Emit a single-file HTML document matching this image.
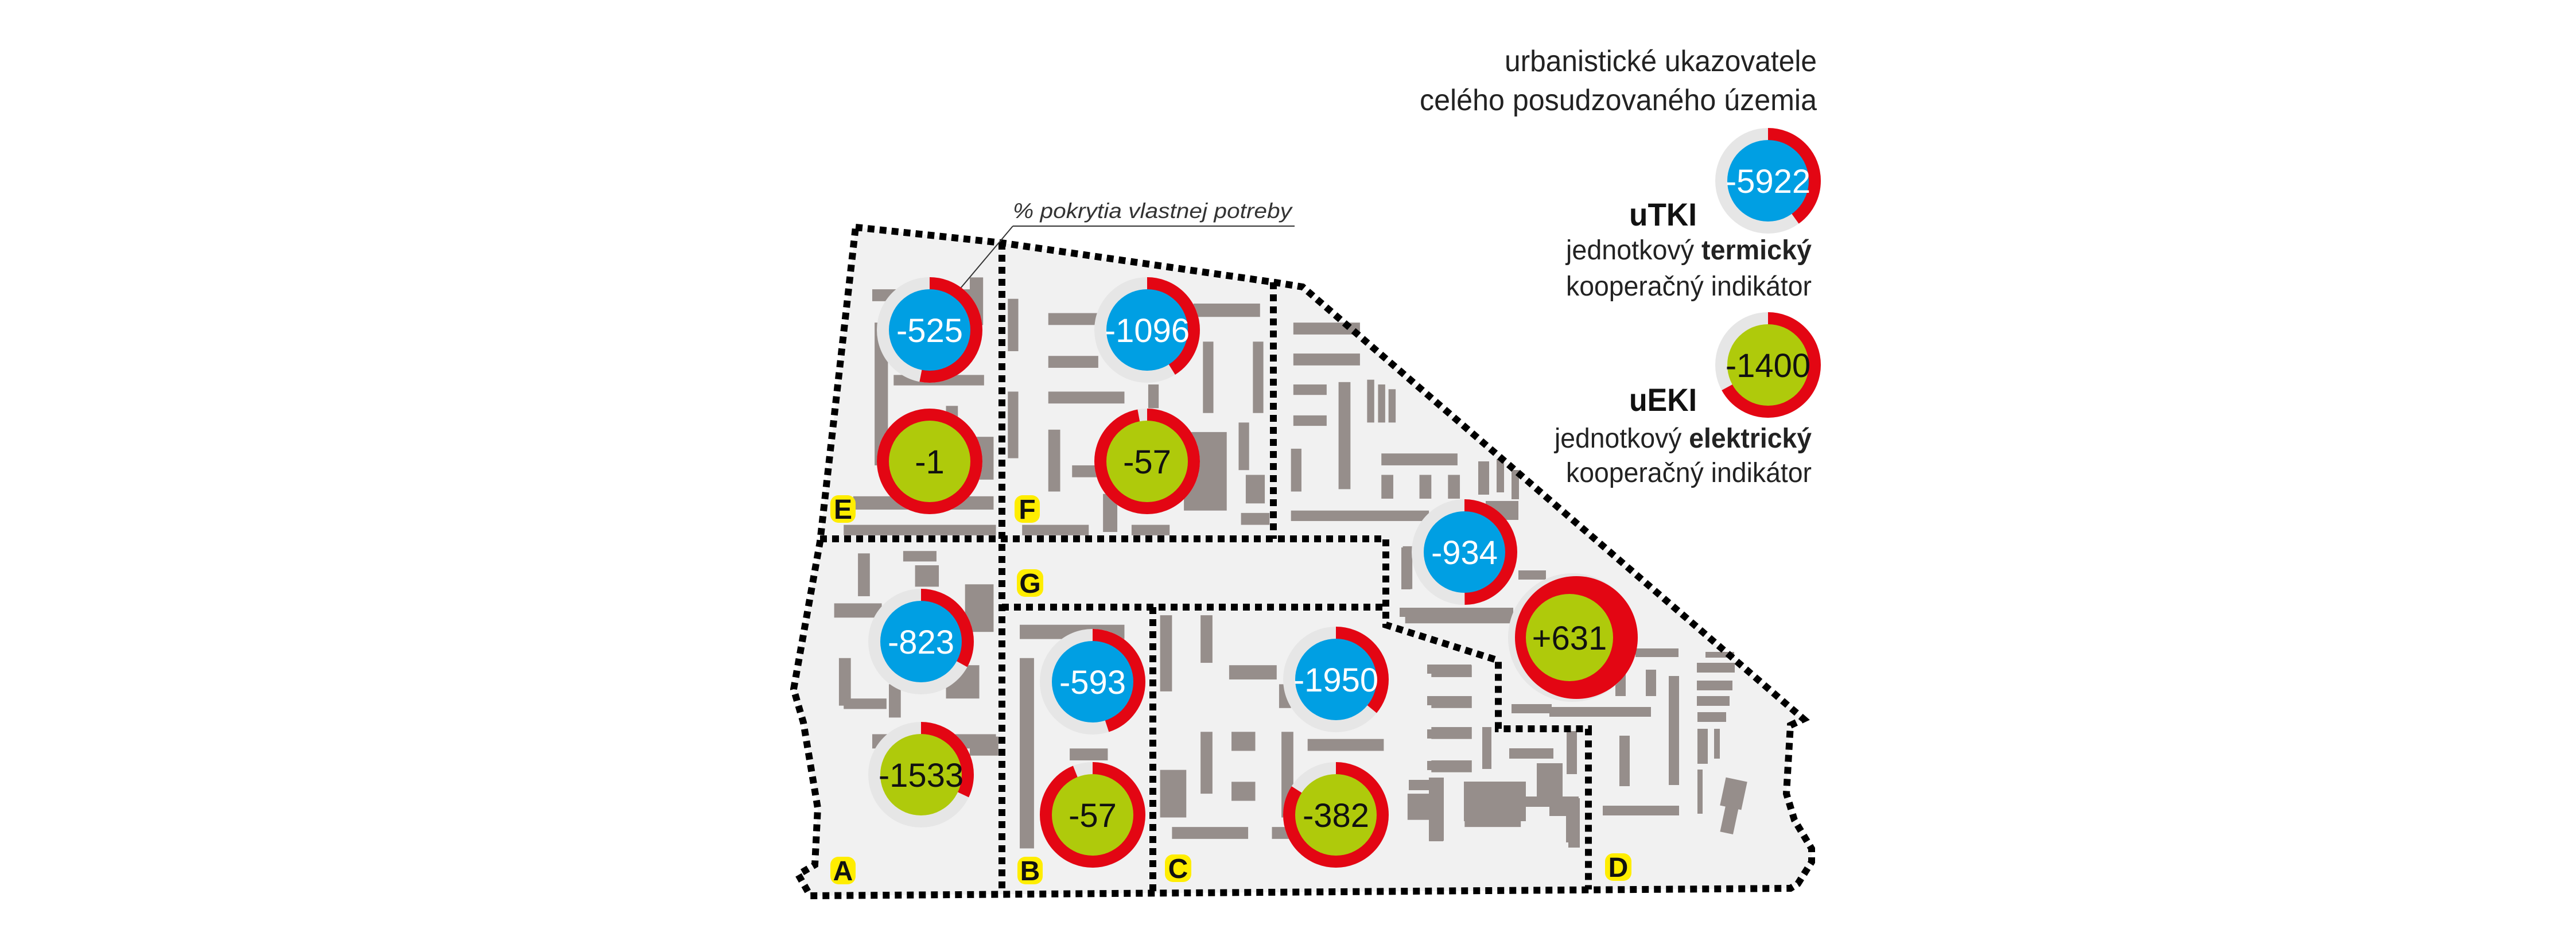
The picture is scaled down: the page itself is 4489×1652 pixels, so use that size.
<!DOCTYPE html>
<html><head><meta charset="utf-8"><style>html,body{margin:0;padding:0;background:#fff}svg{display:block}</style></head>
<body>
<svg xmlns="http://www.w3.org/2000/svg" width="4489" height="1652" viewBox="0 0 4489 1652">
<rect width="4489" height="1652" fill="#fff"/>
<path d="M1491,396 L1744,423 L2221,492 L2270,500 L3143,1253 L3120,1264 L3113,1383 L3127,1429 L3157,1479 L3157,1502 L3133,1540 L3120,1548 L1412,1561 L1391,1524 L1420,1507 L1425,1408 L1400,1259 L1383,1201 L1429,944 Z" fill="#f1f1f1"/>
<g fill="#968e8b">
<g transform="translate(1350,330) scale(0.8292)">
<rect x="205" y="210" width="230" height="25"/><rect x="210" y="280" width="28" height="300"/><rect x="410" y="185" width="28" height="100"/>
<rect x="250" y="390" width="190" height="22"/><rect x="360" y="455" width="25" height="60"/><rect x="420" y="520" width="40" height="90"/>
<rect x="165" y="645" width="295" height="28"/><rect x="145" y="705" width="320" height="22"/>
<rect x="490" y="230" width="22" height="110"/><rect x="490" y="425" width="22" height="140"/>
<rect x="575" y="260" width="105" height="25"/><rect x="575" y="350" width="105" height="25"/><rect x="575" y="425" width="160" height="25"/>
<rect x="575" y="505" width="25" height="130"/><rect x="625" y="580" width="55" height="25"/>
<rect x="880" y="240" width="140" height="28"/><rect x="900" y="320" width="22" height="150"/><rect x="1005" y="320" width="22" height="150"/>
<rect x="785" y="410" width="22" height="50"/><rect x="860" y="510" width="90" height="165"/><rect x="975" y="490" width="22" height="100"/>
<rect x="990" y="600" width="40" height="60"/><rect x="980" y="680" width="60" height="25"/>
<rect x="520" y="705" width="140" height="22"/><rect x="750" y="705" width="80" height="22"/><rect x="690" y="640" width="30" height="80"/>
<rect x="1090" y="280" width="140" height="25"/><rect x="1090" y="345" width="140" height="25"/><rect x="1090" y="410" width="70" height="22"/><rect x="1090" y="475" width="70" height="22"/>
<rect x="1185" y="405" width="25" height="225"/><rect x="1245" y="400" width="15" height="90"/><rect x="1268" y="410" width="15" height="80"/><rect x="1290" y="420" width="15" height="70"/>
<rect x="1085" y="545" width="22" height="90"/><rect x="1275" y="555" width="160" height="25"/>
<rect x="1275" y="600" width="25" height="50"/><rect x="1355" y="600" width="25" height="50"/><rect x="1415" y="600" width="25" height="50"/>
<rect x="1085" y="675" width="290" height="22"/>
<rect x="175" y="765" width="25" height="90"/><rect x="270" y="760" width="70" height="22"/><rect x="295" y="790" width="50" height="45"/>
<rect x="400" y="830" width="60" height="100"/><rect x="125" y="870" width="100" height="30"/>
<rect x="135" y="985" width="25" height="100"/><rect x="145" y="1070" width="90" height="22"/><rect x="240" y="1040" width="25" height="70"/>
<rect x="360" y="1000" width="70" height="70"/><rect x="205" y="1145" width="260" height="30"/><rect x="410" y="1150" width="60" height="40"/>
<rect x="515" y="915" width="220" height="30"/><rect x="515" y="985" width="30" height="400"/><rect x="620" y="1175" width="80" height="25"/>
<rect x="810" y="895" width="25" height="160"/><rect x="895" y="895" width="25" height="100"/><rect x="955" y="1000" width="100" height="30"/>
<rect x="1060" y="1040" width="25" height="50"/><rect x="895" y="1140" width="25" height="130"/><rect x="960" y="1140" width="50" height="40"/>
<rect x="960" y="1245" width="50" height="40"/><rect x="810" y="1220" width="55" height="100"/><rect x="1065" y="1140" width="25" height="180"/>
<rect x="1120" y="1155" width="160" height="25"/><rect x="835" y="1340" width="160" height="25"/><rect x="1045" y="1340" width="60" height="25"/>
<rect x="1380" y="1000" width="85" height="25"/><rect x="1380" y="1065" width="85" height="25"/><rect x="1380" y="1130" width="85" height="25"/><rect x="1380" y="1200" width="85" height="25"/>
<rect x="1375" y="1260" width="30" height="110"/><rect x="1450" y="1280" width="118" height="60"/><rect x="1330" y="1270" width="45" height="55"/>
<rect x="1325" y="890" width="250" height="22"/><rect x="1320" y="750" width="20" height="90"/>
</g>
<rect x="2487" y="1158" width="77" height="16"/><rect x="2487" y="1213" width="77" height="16"/><rect x="2487" y="1271" width="77" height="16"/><rect x="2487" y="1326" width="77" height="16"/>
<rect x="2439" y="1059" width="198" height="16"/><rect x="2442" y="954" width="16" height="73"/><rect x="2646" y="994" width="48" height="16"/>
<rect x="2576" y="804" width="19" height="58"/><rect x="2608" y="800" width="13" height="58"/><rect x="2634" y="819" width="13" height="51"/>
<rect x="2589" y="873" width="57" height="33"/><rect x="2634" y="1227" width="70" height="16"/><rect x="2630" y="1304" width="77" height="18"/>
<rect x="2678" y="1330" width="45" height="73"/><rect x="2551" y="1362" width="108" height="69"/><rect x="2659" y="1388" width="92" height="18"/>
<rect x="2729" y="1388" width="22" height="80"/><rect x="2455" y="1359" width="57" height="18"/><rect x="2490" y="1355" width="26" height="110"/>
<rect x="2583" y="1267" width="16" height="73"/>
<rect x="2850" y="1130" width="75" height="15"/><rect x="2972" y="1136" width="50" height="10"/>
<rect x="2957" y="1155" width="66" height="17"/><rect x="2957" y="1186" width="62" height="17"/><rect x="2957" y="1213" width="57" height="17"/><rect x="2958" y="1241" width="50" height="17"/>
<rect x="2815" y="1169" width="18" height="44"/><rect x="2868" y="1167" width="18" height="46"/><rect x="2908" y="1178" width="18" height="190"/>
<rect x="2700" y="1232" width="177" height="17"/><rect x="2958" y="1270" width="18" height="61"/><rect x="2987" y="1270" width="10" height="52"/>
<rect x="2958" y="1341" width="9" height="77"/><rect x="2822" y="1282" width="18" height="88"/><rect x="2793" y="1404" width="133" height="17"/>
<rect x="3002" y="1358" width="38" height="50" transform="rotate(12 3021 1383)"/><rect x="3002" y="1406" width="23" height="46" transform="rotate(12 3013 1429)"/>
<rect x="2730" y="1274" width="18" height="75"/><rect x="2700" y="1333" width="23" height="57"/><rect x="2700" y="1391" width="53" height="31"/><rect x="2733" y="1421" width="20" height="56"/>
</g>
<g fill="none" stroke="#000" stroke-width="12" stroke-dasharray="12 9">
<path d="M1491,396 L1744,423 L2221,492 L2270,500 L3143,1253 L3120,1264 L3113,1383 L3127,1429 L3157,1479 L3157,1502 L3133,1540 L3120,1548 L1412,1561 L1391,1524 L1420,1507 L1425,1408 L1400,1259 L1383,1201 L1429,944 Z"/>
<path d="M1746,423 V1557"/>
<path d="M1429,939 H2415 V1089 L2611,1151 V1270 H2768 V1550"/>
<path d="M2219,492 V939"/>
<path d="M1746,1058 H2415"/>
<path d="M2009,1058 V1557"/>
</g>
<text x="1765" y="380" font-family="Liberation Sans, sans-serif" font-style="italic" font-size="37" fill="#333" textLength="486" lengthAdjust="spacingAndGlyphs">% pokrytia vlastnej potreby</text>
<path d="M1765,394 H2256 M1765,394 L1669,508" stroke="#333" stroke-width="2" fill="none"/>
<g font-family="Liberation Sans, sans-serif" font-size="58" text-anchor="middle">
<g><circle cx="1620" cy="575" r="92" fill="#e6e6e6"/><circle cx="1620" cy="575" r="81" fill="none" stroke="#e30613" stroke-width="22" stroke-dasharray="270 600" transform="rotate(-90 1620 575)"/><circle cx="1620" cy="575" r="71" fill="#009fe3"/><text x="1620" y="596" fill="#fff">-525</text></g>
<g><circle cx="1620" cy="804" r="92" fill="#e6e6e6"/><circle cx="1620" cy="804" r="81" fill="none" stroke="#e30613" stroke-width="22"/><circle cx="1620" cy="804" r="71" fill="#afca0b"/><text x="1620" y="825" fill="#111">-1</text></g>
<g><circle cx="1999" cy="575" r="92" fill="#e6e6e6"/><circle cx="1999" cy="575" r="81" fill="none" stroke="#e30613" stroke-width="22" stroke-dasharray="209 600" transform="rotate(-90 1999 575)"/><circle cx="1999" cy="575" r="71" fill="#009fe3"/><text x="1999" y="596" fill="#fff">-1096</text></g>
<g><circle cx="1999" cy="804" r="92" fill="#e6e6e6"/><circle cx="1999" cy="804" r="81" fill="none" stroke="#e30613" stroke-width="22" stroke-dasharray="494 600" transform="rotate(-90 1999 804)"/><circle cx="1999" cy="804" r="71" fill="#afca0b"/><text x="1999" y="825" fill="#111">-57</text></g>
<g><circle cx="1605" cy="1118" r="92" fill="#e6e6e6"/><circle cx="1605" cy="1118" r="81" fill="none" stroke="#e30613" stroke-width="22" stroke-dasharray="168 600" transform="rotate(-90 1605 1118)"/><circle cx="1605" cy="1118" r="71" fill="#009fe3"/><text x="1605" y="1139" fill="#fff">-823</text></g>
<g><circle cx="1605" cy="1350" r="92" fill="#e6e6e6"/><circle cx="1605" cy="1350" r="81" fill="none" stroke="#e30613" stroke-width="22" stroke-dasharray="163 600" transform="rotate(-90 1605 1350)"/><circle cx="1605" cy="1350" r="71" fill="#afca0b"/><text x="1605" y="1371" fill="#111">-1533</text></g>
<g><circle cx="1904" cy="1188" r="92" fill="#e6e6e6"/><circle cx="1904" cy="1188" r="81" fill="none" stroke="#e30613" stroke-width="22" stroke-dasharray="229 600" transform="rotate(-90 1904 1188)"/><circle cx="1904" cy="1188" r="71" fill="#009fe3"/><text x="1904" y="1209" fill="#fff">-593</text></g>
<g><circle cx="1904" cy="1420" r="92" fill="#e6e6e6"/><circle cx="1904" cy="1420" r="81" fill="none" stroke="#e30613" stroke-width="22" stroke-dasharray="478 600" transform="rotate(-90 1904 1420)"/><circle cx="1904" cy="1420" r="71" fill="#afca0b"/><text x="1904" y="1441" fill="#111">-57</text></g>
<g><circle cx="2328" cy="1184" r="92" fill="#e6e6e6"/><circle cx="2328" cy="1184" r="81" fill="none" stroke="#e30613" stroke-width="22" stroke-dasharray="183 600" transform="rotate(-90 2328 1184)"/><circle cx="2328" cy="1184" r="71" fill="#009fe3"/><text x="2328" y="1205" fill="#fff">-1950</text></g>
<g><circle cx="2328" cy="1420" r="92" fill="#e6e6e6"/><circle cx="2328" cy="1420" r="81" fill="none" stroke="#e30613" stroke-width="22" stroke-dasharray="428 600" transform="rotate(-90 2328 1420)"/><circle cx="2328" cy="1420" r="71" fill="#afca0b"/><text x="2328" y="1441" fill="#111">-382</text></g>
<g><circle cx="2552" cy="962" r="92" fill="#e6e6e6"/><circle cx="2552" cy="962" r="81" fill="none" stroke="#e30613" stroke-width="22" stroke-dasharray="254 600" transform="rotate(-90 2552 962)"/><circle cx="2552" cy="962" r="71" fill="#009fe3"/><text x="2552" y="983" fill="#fff">-934</text></g>
<g><circle cx="2740" cy="1111" r="112" fill="#e6e6e6"/><circle cx="2747" cy="1111" r="107" fill="#e30613"/><circle cx="2735" cy="1111" r="76" fill="#afca0b"/><text x="2735" y="1132" fill="#111">+631</text></g>
<g><circle cx="3081" cy="315" r="92" fill="#e6e6e6"/><circle cx="3081" cy="315" r="81" fill="none" stroke="#e30613" stroke-width="22" stroke-dasharray="204 600" transform="rotate(-90 3081 315)"/><circle cx="3081" cy="315" r="71" fill="#009fe3"/><text x="3081" y="336" fill="#fff">-5922</text></g>
<g><circle cx="3081" cy="636" r="92" fill="#e6e6e6"/><circle cx="3081" cy="636" r="81" fill="none" stroke="#e30613" stroke-width="22" stroke-dasharray="341 600" transform="rotate(-90 3081 636)"/><circle cx="3081" cy="636" r="71" fill="#afca0b"/><text x="3081" y="657" fill="#111">-1400</text></g>
</g>
<g font-family="Liberation Sans, sans-serif" font-weight="bold" font-size="48" text-anchor="middle" fill="#111">
<rect x="1447" y="863" width="44" height="48" rx="14" fill="#ffed00"/><text x="1469" y="904">E</text>
<rect x="1768" y="863" width="44" height="48" rx="14" fill="#ffed00"/><text x="1790" y="904">F</text>
<rect x="1772" y="992" width="46" height="48" rx="14" fill="#ffed00"/><text x="1795" y="1033">G</text>
<rect x="1447" y="1493" width="44" height="48" rx="14" fill="#ffed00"/><text x="1469" y="1534">A</text>
<rect x="1773" y="1493" width="44" height="48" rx="14" fill="#ffed00"/><text x="1795" y="1534">B</text>
<rect x="2030" y="1489" width="46" height="48" rx="14" fill="#ffed00"/><text x="2053" y="1530">C</text>
<rect x="2797" y="1487" width="46" height="48" rx="14" fill="#ffed00"/><text x="2820" y="1528">D</text>
</g>
<g font-family="Liberation Sans, sans-serif" fill="#222">
<text x="2622" y="124" font-size="52" textLength="544" lengthAdjust="spacingAndGlyphs">urbanistické ukazovatele</text>
<text x="2474" y="192" font-size="52" textLength="692" lengthAdjust="spacingAndGlyphs">celého posudzovaného územia</text>
<text x="2839" y="393" font-size="56" font-weight="bold" fill="#111" textLength="118" lengthAdjust="spacingAndGlyphs">uTKI</text>
<text x="2729" y="452" font-size="48" textLength="428" lengthAdjust="spacingAndGlyphs">jednotkový <tspan font-weight="bold">termický</tspan></text>
<text x="2729" y="515" font-size="48" textLength="428" lengthAdjust="spacingAndGlyphs">kooperačný indikátor</text>
<text x="2839" y="716" font-size="56" font-weight="bold" fill="#111" textLength="118" lengthAdjust="spacingAndGlyphs">uEKI</text>
<text x="2709" y="780" font-size="48" textLength="448" lengthAdjust="spacingAndGlyphs">jednotkový <tspan font-weight="bold">elektrický</tspan></text>
<text x="2729" y="840" font-size="48" textLength="428" lengthAdjust="spacingAndGlyphs">kooperačný indikátor</text>
</g>
</svg>
</body></html>
